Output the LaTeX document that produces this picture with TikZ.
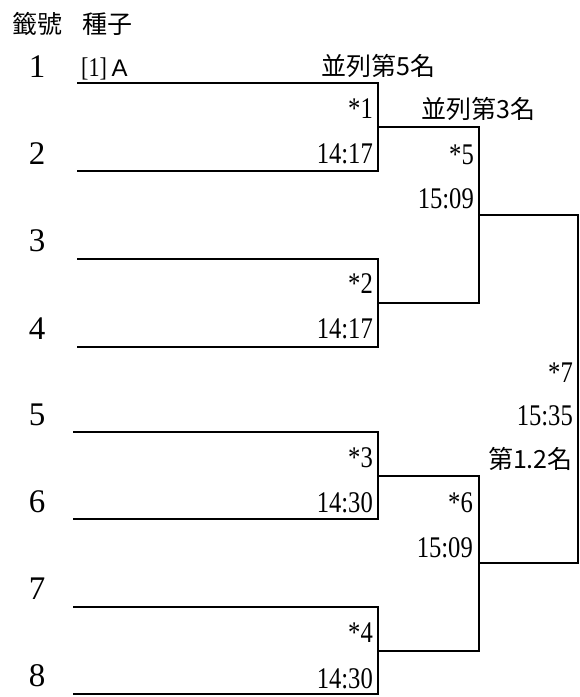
\documentclass[tikz,border=0pt]{standalone}
\usepackage{fontspec}
\setmainfont{Liberation Serif}
\newfontfamily\cjk{Noto Sans CJK TC}
\newfontfamily\tfont[FakeStretch=0.82]{Liberation Serif}
\newfontfamily\sansA{Liberation Sans}
\begin{document}
\begin{tikzpicture}[x=1pt,y=-1pt,
  br/.style={line width=2.8pt,line join=miter},
  seed/.style={font=\fontsize{33}{33}\selectfont,inner sep=0pt,anchor=base},
  lbl/.style={font=\tfont\fontsize{30}{30}\selectfont,inner sep=0pt,anchor=base east},
  cj/.style={font=\cjk\fontsize{25}{25}\selectfont,inner sep=0pt,anchor=base west}]
\useasboundingbox (0,0) rectangle (580,697);
% entry coordinates
\coordinate (e1) at (77,83);
\coordinate (e2) at (77,171);
\coordinate (e3) at (77,259);
\coordinate (e4) at (77,347);
\coordinate (e5) at (73,432);
\coordinate (e6) at (73,519);
\coordinate (e7) at (73,607);
\coordinate (e8) at (73,694);
% round 1 joints
\coordinate (r1) at (378,127);
\coordinate (r2) at (378,303);
\coordinate (r3) at (378,476);
\coordinate (r4) at (378,651);
% round 2 joints
\coordinate (q5) at (479,215);
\coordinate (q6) at (479,563);
% final
\coordinate (f7) at (578,389);
% brackets
\draw[br] (e1) -| (r1) |- (e2);
\draw[br] (e3) -| (r2) |- (e4);
\draw[br] (e5) -| (r3) |- (e6);
\draw[br] (e7) -| (r4) |- (e8);
\draw[br] (r1) -| (q5) |- (r2);
\draw[br] (r3) -| (q6) |- (r4);
\draw[br] (q5) -| (f7) |- (q6);
% header
\node[cj] (hdr) at (12,33) {籤號\hspace{0.8em}種子};
% seed numbers
\node[seed] (n1) at (37,77) {1};
\node[seed] (n2) at (37,164) {2};
\node[seed] (n3) at (37,251) {3};
\node[seed] (n4) at (37,339) {4};
\node[seed] (n5) at (37,425) {5};
\node[seed] (n6) at (37,512) {6};
\node[seed] (n7) at (37,599) {7};
\node[seed] (n8) at (37,686) {8};
\node[inner sep=0pt,anchor=base west,font=\tfont\fontsize{27}{27}\selectfont] (s1) at (81,76) {[1]\,{\sansA\fontsize{24}{24}\selectfont A}};
% match labels
\node[lbl] (m1a) at (373,118) {*1};
\node[lbl] (m1b) at (373,163) {14:17};
\node[lbl] (m2a) at (373,293) {*2};
\node[lbl] (m2b) at (373,338) {14:17};
\node[lbl] (m3a) at (373,467) {*3};
\node[lbl] (m3b) at (373,512) {14:30};
\node[lbl] (m4a) at (373,642) {*4};
\node[lbl] (m4b) at (373,688) {14:30};
\node[lbl] (m5a) at (474,164) {*5};
\node[lbl] (m5b) at (474,208) {15:09};
\node[lbl] (m6a) at (473,512) {*6};
\node[lbl] (m6b) at (473,557) {15:09};
\node[lbl] (m7a) at (573,382) {*7};
\node[lbl] (m7b) at (573,425) {15:35};
% placings
\node[cj] (p5) at (321,75) {並列第5名};
\node[cj] (p3) at (421,118) {並列第3名};
\node[cj,anchor=base east] (p1) at (573,468) {第1.2名};
\end{tikzpicture}
\end{document}
